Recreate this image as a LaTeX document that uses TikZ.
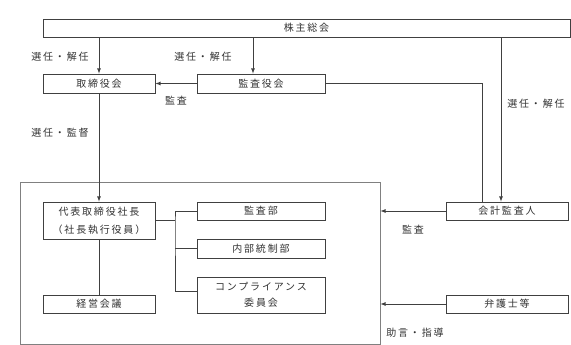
\documentclass[tikz,border=0pt]{standalone}
\usepackage{fontspec}
\usepackage{tikz}
\usepackage{xcolor}
\usetikzlibrary{arrows, positioning, calc}
\setmainfont{Noto Sans CJK JP}[LetterSpace=18]
\definecolor{linegray}{RGB}{64, 64, 64}
\definecolor{framegray}{RGB}{128, 128, 128}
\definecolor{textgray}{RGB}{50, 50, 50}

\begin{document}
\begin{tikzpicture}[x=1pt, y=-1pt, >=latex,
    orgbox/.style={rectangle, draw=linegray, line width=0.8pt, inner sep=0pt,
                   text=textgray, font=\fontsize{10}{12}\selectfont},
    link/.style={draw=linegray, line width=0.8pt},
    lbl/.style={text=textgray, font=\fontsize{10}{12}\selectfont}]

\useasboundingbox (0,0) rectangle (571,345);

% Company frame
\node[rectangle, draw=framegray, line width=0.8pt, minimum width=360pt,
      minimum height=162pt] (company) at (200,263) {};

% Governance bodies
\node[orgbox, minimum width=527pt, minimum height=18pt] (gm) at (306.5,28) {株主総会};
\node[orgbox, minimum width=112pt, minimum height=19pt] (board) at (99,83.5) {取締役会};
\node[orgbox, minimum width=128pt, minimum height=19pt] (kansayaku) at (261,83.5) {監査役会};

% Executive side
\node[orgbox, minimum width=112pt, minimum height=37pt, align=center,
      font=\fontsize{10}{18}\selectfont] (ceo) at (99,220.5) {代表取締役社長\\（社長執行役員）};
\node[orgbox, minimum width=112pt, minimum height=18pt] (keiei) at (99,304) {経営会議};
\node[orgbox, minimum width=128pt, minimum height=18pt] (kansabu) at (261,211) {監査部};
\node[orgbox, minimum width=128pt, minimum height=19pt] (naibu) at (261,248.5) {内部統制部};
\node[orgbox, minimum width=128pt, minimum height=36pt, align=center,
      font=\fontsize{10}{16}\selectfont] (comp) at (261,295) {コンプライアンス\\委員会};

% Outside parties
\node[orgbox, minimum width=122pt, minimum height=18pt] (auditor) at (507,211) {会計監査人};
\node[orgbox, minimum width=122pt, minimum height=18pt] (lawyer) at (507,304) {弁護士等};

% Elections
\draw[link, ->] (gm.south -| board) -- (board);
\draw[link, ->] ([xshift=-8pt]kansayaku.north |- gm.south) -- ([xshift=-8pt]kansayaku.north);
\draw[link, ->] ([xshift=-6pt]auditor.north |- gm.south) -- ([xshift=-6pt]auditor.north);
\node[lbl] (elect1) at (60,57) {選任・解任};
\node[lbl] (elect2) at (203,57) {選任・解任};
\node[lbl] (elect3) at (536,104) {選任・解任};

% Audit
\draw[link, ->] (kansayaku.west) -- (board.east);
\node[lbl] (audit1) at (176,101) {監査};
\draw[link] (kansayaku.east) -| ([xshift=-25pt]auditor.north);

% Supervision
\draw[link, ->] (board) -- (ceo);
\node[lbl] (supervise) at (60,133) {選任・監督};
\draw[link] (ceo) -- (keiei);

% Branch to departments
\coordinate (br) at (175,221);
\draw[link] (ceo.east) -- (ceo.east -| br);
\draw[link] (kansabu.west) -| (br) |- ([yshift=4pt]comp.west);
\draw[link] (br |- naibu) -- (naibu.west);

% External advice
\draw[link, ->] (auditor.west) -- (auditor.west -| company.east);
\node[lbl] (audit2) at (413,230) {監査};
\draw[link, ->] (lawyer.west) -- (lawyer.west -| company.east);
\node[lbl] (advice) at (415,333) {助言・指導};

\end{tikzpicture}
\end{document}
